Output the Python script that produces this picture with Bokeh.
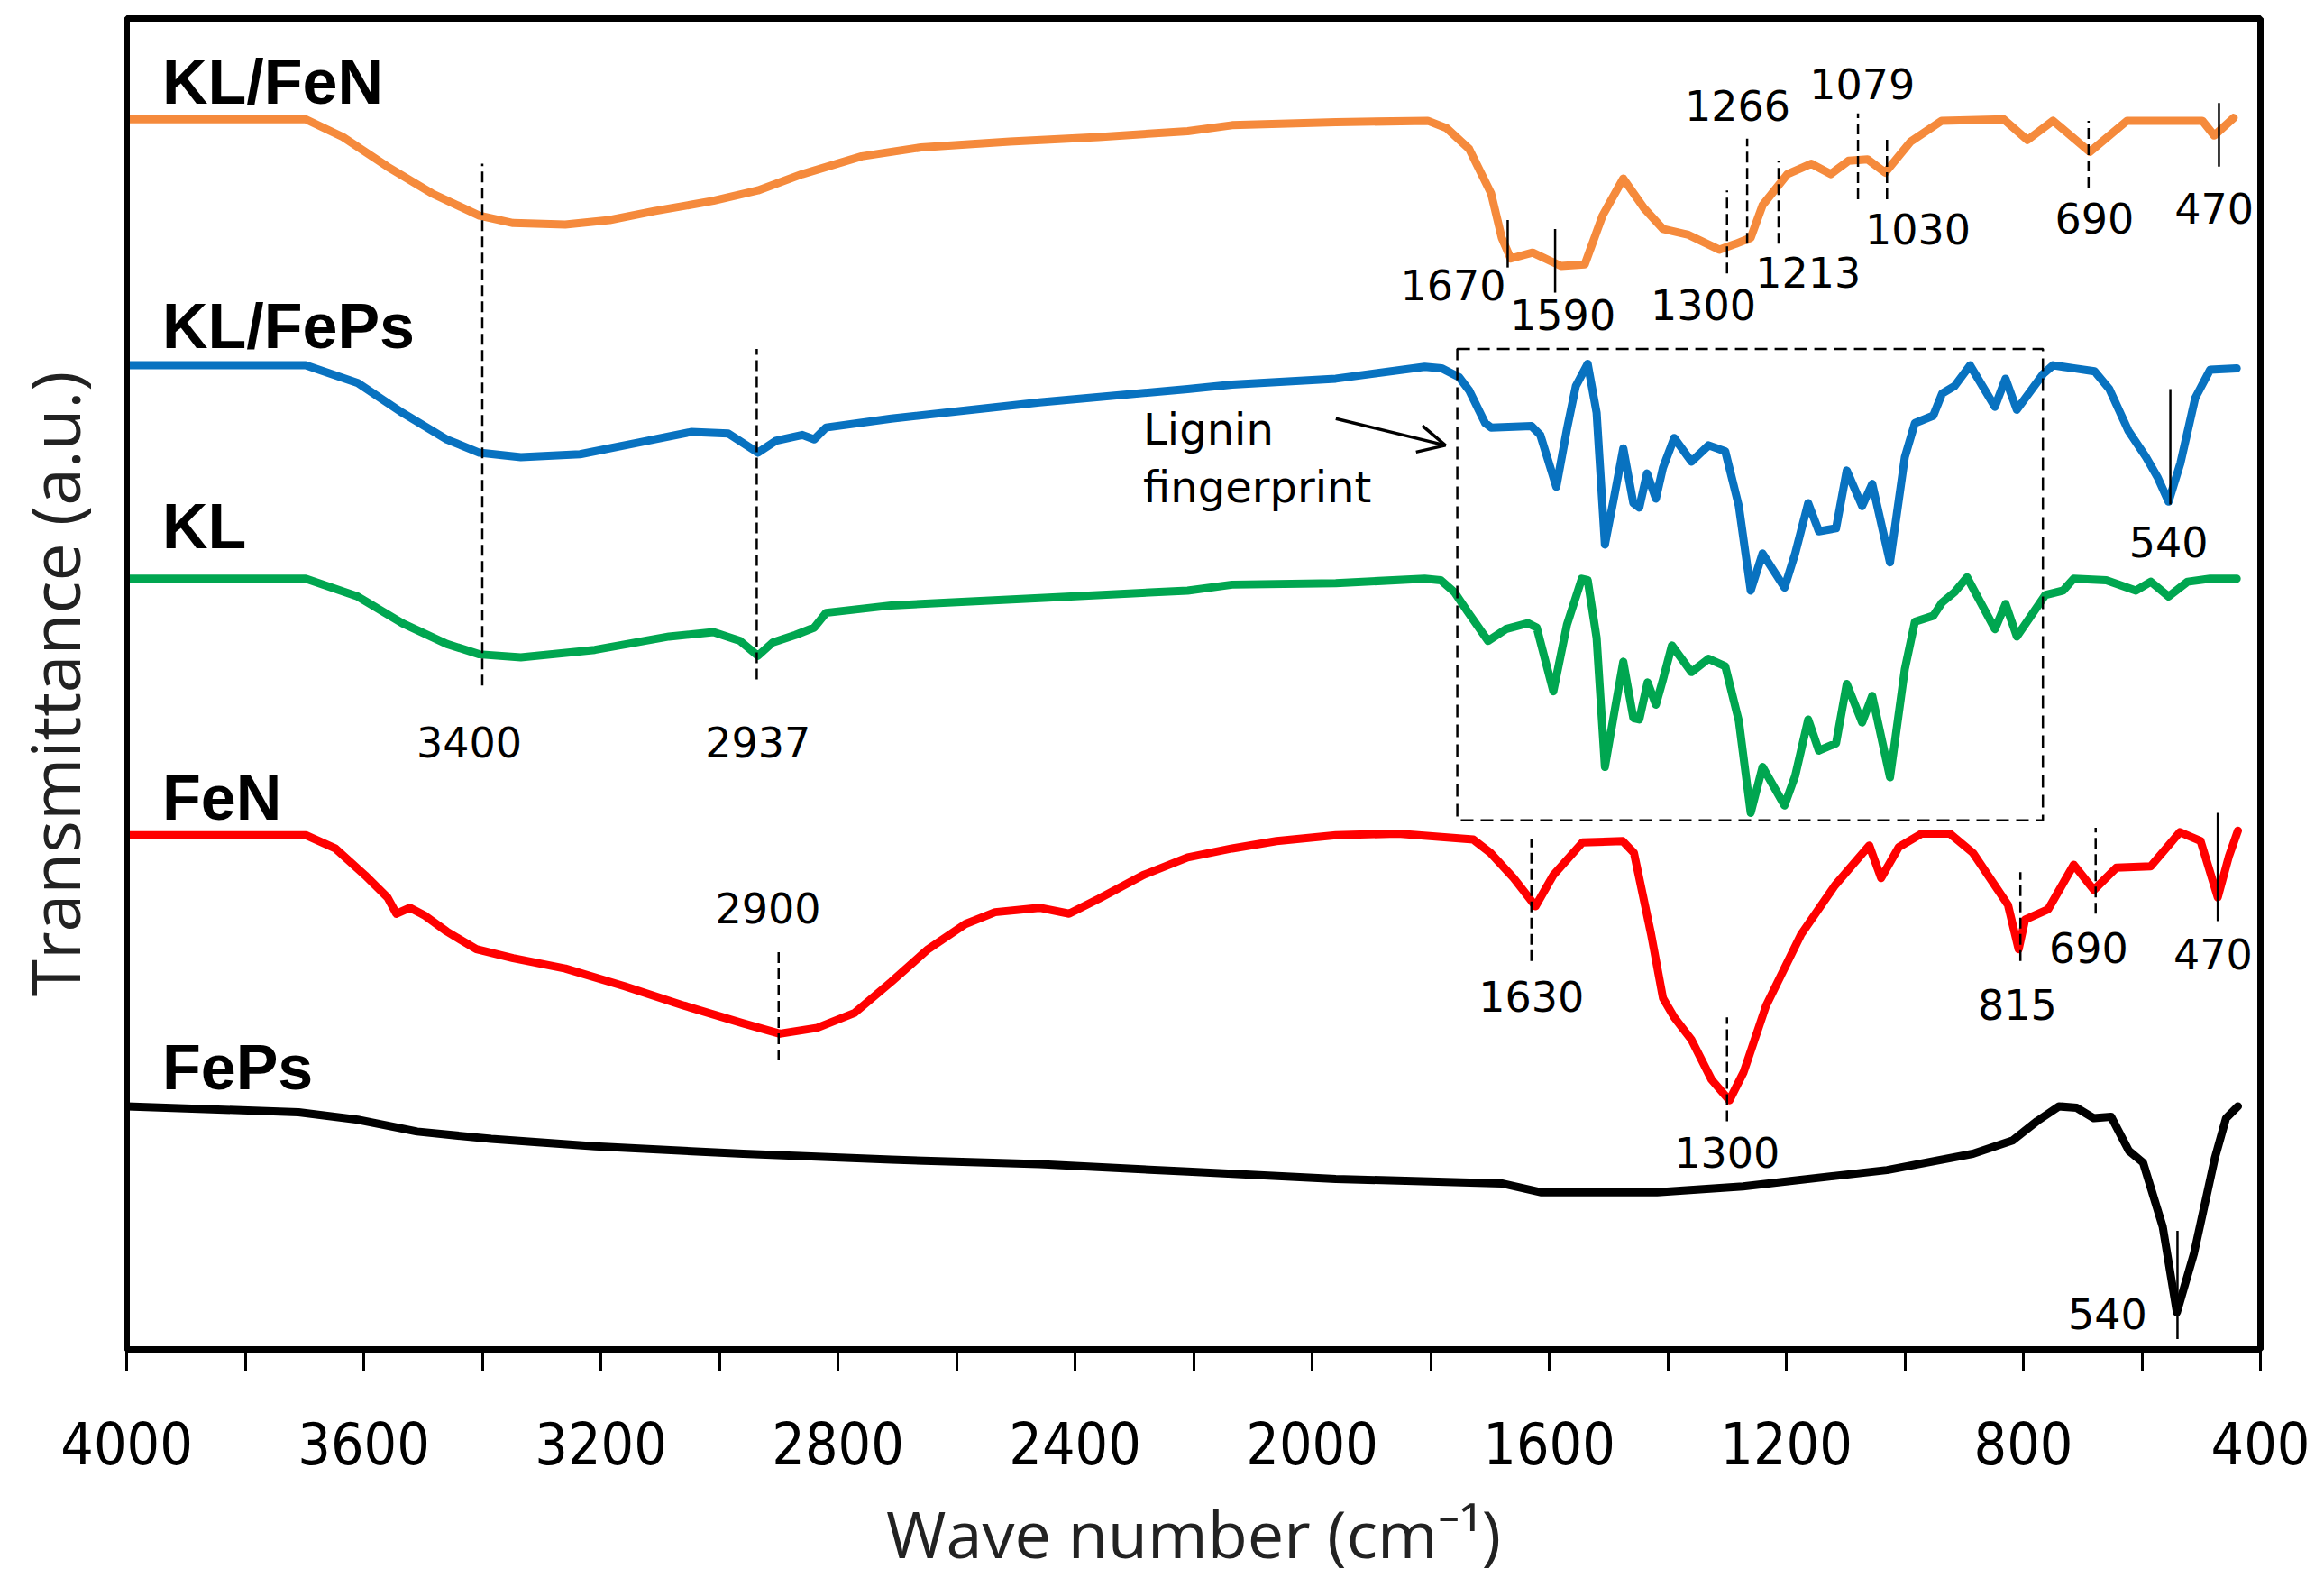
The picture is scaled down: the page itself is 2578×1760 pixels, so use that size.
from bokeh.plotting import figure
from bokeh.models import Range1d, FixedTicker, ColumnDataSource, Arrow, OpenHead
from bokeh.core.properties import value
from bokeh.embed import file_html
from bokeh.resources import INLINE

# ---------------- data (wavenumber cm-1, transmittance a.u. with offsets) ----------------
klfen_wn = [4000, 3698, 3635, 3560, 3485, 3405, 3348, 3260, 3185, 3110, 3010, 2935, 2860, 2760, 2660,
            2510, 2360, 2210, 2135, 1960, 1805, 1773, 1735, 1698, 1680, 1665, 1628, 1580, 1540, 1510,
            1475, 1440, 1408, 1365, 1313, 1285, 1260, 1240, 1198, 1158, 1125, 1095, 1063, 1033, 990,
            938, 833, 793, 750, 688, 625, 498, 478, 445]
klfen_t = [8.30, 8.30, 8.18, 7.98, 7.80, 7.65, 7.60, 7.59, 7.62, 7.68, 7.75, 7.82, 7.93, 8.05, 8.11,
           8.15, 8.18, 8.22, 8.26, 8.28, 8.29, 8.24, 8.10, 7.80, 7.50, 7.36, 7.40, 7.31, 7.32, 7.65,
           7.90, 7.70, 7.56, 7.52, 7.42, 7.46, 7.50, 7.72, 7.93, 8.00, 7.93, 8.02, 8.03, 7.94, 8.15,
           8.29, 8.30, 8.16, 8.29, 8.08, 8.29, 8.29, 8.19, 8.31]

klfeps_wn = [4000, 3698, 3610, 3535, 3460, 3405, 3335, 3235, 3135, 3048, 2985, 2935, 2905, 2860, 2840,
             2820, 2710, 2460, 2210, 2135, 1960, 1810, 1781, 1752, 1735, 1708, 1698, 1630, 1615, 1588,
             1570, 1555, 1535, 1520, 1506, 1490, 1475, 1458, 1448, 1435, 1420, 1408, 1389, 1360, 1331,
             1303, 1280, 1260, 1240, 1203, 1185, 1163, 1145, 1116, 1098, 1072, 1055, 1025, 1000, 983,
             952, 937, 916, 890, 848, 830, 811, 767, 750, 715, 680, 655, 623, 593, 573, 555, 535, 510,
             485, 440]
klfeps_t = [6.64, 6.64, 6.52, 6.32, 6.14, 6.05, 6.02, 6.04, 6.12, 6.19, 6.18, 6.05, 6.13, 6.17, 6.14,
            6.22, 6.28, 6.39, 6.48, 6.51, 6.55, 6.63, 6.62, 6.56, 6.47, 6.25, 6.22, 6.23, 6.17, 5.82,
            6.21, 6.50, 6.65, 6.32, 5.43, 5.76, 6.08, 5.71, 5.68, 5.91, 5.74, 5.95, 6.15, 5.99, 6.10,
            6.06, 5.69, 5.12, 5.37, 5.14, 5.37, 5.71, 5.52, 5.54, 5.93, 5.69, 5.84, 5.31, 6.02, 6.25,
            6.30, 6.45, 6.50, 6.64, 6.36, 6.55, 6.34, 6.58, 6.64, 6.62, 6.60, 6.48, 6.20, 6.02, 5.88,
            5.72, 5.98, 6.42, 6.61, 6.62]

kl_wn = [4000, 3698, 3610, 3535, 3460, 3405, 3335, 3210, 3085, 3010, 2965, 2935, 2910, 2872, 2840,
         2820, 2710, 2460, 2210, 2135, 1960, 1810, 1783, 1760, 1738, 1703, 1673, 1636, 1621, 1593,
         1570, 1545, 1535, 1520, 1506, 1490, 1475, 1458, 1448, 1434, 1420, 1408, 1393, 1360, 1331,
         1303, 1280, 1260, 1240, 1203, 1185, 1163, 1145, 1116, 1098, 1072, 1055, 1025, 1000, 983,
         952, 937, 916, 895, 848, 830, 811, 763, 733, 715, 660, 610, 585, 555, 523, 485, 440]
kl_t = [5.20, 5.20, 5.08, 4.90, 4.76, 4.69, 4.67, 4.72, 4.81, 4.84, 4.78, 4.68, 4.77, 4.82, 4.87,
        4.97, 5.02, 5.07, 5.12, 5.16, 5.17, 5.20, 5.19, 5.11, 4.98, 4.78, 4.86, 4.90, 4.87, 4.44,
        4.89, 5.20, 5.19, 4.80, 3.93, 4.30, 4.64, 4.26, 4.25, 4.50, 4.35, 4.52, 4.75, 4.57, 4.66,
        4.61, 4.24, 3.62, 3.93, 3.67, 3.87, 4.25, 4.04, 4.09, 4.49, 4.23, 4.41, 3.86, 4.59, 4.91,
        4.95, 5.04, 5.11, 5.21, 4.86, 5.03, 4.81, 5.09, 5.12, 5.20, 5.19, 5.12, 5.18, 5.08, 5.18,
        5.20, 5.20]

fen_wn = [4000, 3698, 3648, 3598, 3560, 3545, 3522, 3498, 3460, 3410, 3348, 3260, 3160, 3060, 2960,
          2898, 2835, 2772, 2710, 2648, 2585, 2535, 2460, 2410, 2360, 2285, 2210, 2135, 2060, 1960,
          1855, 1728, 1699, 1660, 1623, 1593, 1544, 1476, 1457, 1428, 1408, 1389, 1360, 1326, 1296,
          1272, 1234, 1175, 1118, 1060, 1040, 1010, 972, 924, 885, 826, 808, 797, 758, 715, 681, 643,
          585, 536, 501, 472, 453, 438]
fen_t = [3.47, 3.47, 3.38, 3.20, 3.05, 2.94, 2.98, 2.93, 2.82, 2.70, 2.64, 2.57, 2.45, 2.32, 2.20,
         2.13, 2.17, 2.27, 2.48, 2.70, 2.87, 2.95, 2.98, 2.94, 3.04, 3.20, 3.32, 3.38, 3.43, 3.47,
         3.48, 3.44, 3.35, 3.18, 2.99, 3.20, 3.42, 3.43, 3.35, 2.80, 2.37, 2.24, 2.09, 1.82, 1.68,
         1.87, 2.32, 2.80, 3.13, 3.40, 3.18, 3.39, 3.48, 3.48, 3.35, 3.00, 2.70, 2.90, 2.97, 3.27,
         3.10, 3.25, 3.26, 3.49, 3.43, 3.05, 3.33, 3.50]

feps_wn = [4000, 3710, 3610, 3510, 3385, 3210, 2960, 2710, 2460, 2210, 1960, 1680, 1613, 1418, 1273,
           1030, 885, 818, 777, 740, 710, 681, 652, 622, 598, 565, 541, 512, 477, 458, 438]
feps_t = [1.64, 1.60, 1.55, 1.47, 1.42, 1.37, 1.32, 1.28, 1.25, 1.20, 1.15, 1.12, 1.06, 1.06, 1.10,
          1.21, 1.32, 1.41, 1.54, 1.64, 1.63, 1.56, 1.57, 1.34, 1.26, 0.83, 0.25, 0.65, 1.29, 1.56,
          1.64]

series_names = ["KL/FeN", "KL/FePs", "KL", "FeN", "FePs"]
series_colors = ["#F58A3C", "#0872C0", "#00A650", "#FF0000", "#000000"]
name_t = [8.55, 6.90, 5.55, 3.72, 1.90]

# peak markers: position (cm-1), top and bottom of the marker line (a.u.)
mark_dash_wn = [3400, 2937, 1300, 1266, 1213, 1079, 1030, 690, 2900, 1630, 1300, 805, 678]
mark_dash_top = [8.00, 6.75, 7.82, 8.17, 8.02, 8.34, 8.19, 8.29, 2.70, 3.44, 2.24, 3.22, 3.52]
mark_dash_bot = [4.48, 4.52, 7.26, 7.46, 7.46, 7.76, 7.76, 7.84, 1.95, 2.62, 1.54, 2.62, 2.94]
mark_solid_wn = [1670, 1590, 470, 552, 472, 540]
mark_solid_top = [7.62, 7.56, 8.41, 6.48, 3.62, 0.80]
mark_solid_bot = [7.30, 7.13, 7.98, 5.70, 2.89, 0.07]

# peak labels
peak_text = ["3400", "2937", "1670", "1590", "1300", "1213", "1266", "1079", "1030", "690", "470",
             "540", "2900", "1630", "1300", "815", "690", "470", "540"]
peak_wn = [3422, 2935, 1762, 1577, 1340, 1163, 1282, 1072, 978, 680, 478,
           555, 2918, 1630, 1300, 810, 690, 480, 658]
peak_t = [4.10, 4.10, 7.18, 6.98, 7.05, 7.27, 8.39, 8.54, 7.56, 7.63, 7.70,
          5.45, 2.98, 2.38, 1.33, 2.33, 2.71, 2.67, 0.24]

x_major = [4000, 3600, 3200, 2800, 2400, 2000, 1600, 1200, 800, 400]
x_minor = [3800, 3400, 3000, 2600, 2200, 1800, 1400, 1000, 600]

# ---------------- figure ----------------
p = figure(width=2570, height=1756, output_backend="svg", toolbar_location=None,
           x_range=Range1d(4000, 400), y_range=Range1d(0, 8.98),
           min_border_left=140, min_border_right=63, min_border_top=20, min_border_bottom=260)
p.background_fill_color = "white"
p.border_fill_color = "white"
p.outline_line_color = "black"
p.outline_line_width = 7
p.xgrid.visible = False
p.ygrid.visible = False

xa = p.xaxis[0]
xa.ticker = FixedTicker(ticks=x_major, minor_ticks=x_minor)
xa.axis_line_width = 7
xa.major_tick_out = 24
xa.major_tick_in = 0
xa.minor_tick_out = 24
xa.minor_tick_in = 0
xa.major_tick_line_width = 3
xa.minor_tick_line_width = 3
xa.major_label_text_font = "DejaVu Sans Condensed"
xa.major_label_text_font_size = "64px"
xa.major_label_text_color = "black"
xa.major_label_standoff = 56
xa.axis_label = "Wave number (cm\u207b\u00b9)"
xa.axis_label_text_font = "Open Sans"
xa.axis_label_text_font_style = "normal"
xa.axis_label_text_font_size = "72px"
xa.axis_label_text_color = "#222222"
xa.axis_label_standoff = 24

ya = p.yaxis[0]
ya.ticker = FixedTicker(ticks=[])
ya.axis_line_width = 7
ya.major_tick_out = 0
ya.minor_tick_out = 0
ya.major_label_text_font_size = "0px"
ya.axis_label = "Transmittance (a.u.)"
ya.axis_label_text_font = "Open Sans"
ya.axis_label_text_font_style = "normal"
ya.axis_label_text_font_size = "75px"
ya.axis_label_text_color = "#222222"
ya.axis_label_standoff = 30

# spectra
all_wn = [klfen_wn, klfeps_wn, kl_wn, fen_wn, feps_wn]
all_t = [klfen_t, klfeps_t, kl_t, fen_t, feps_t]
for wn, t, c in zip(all_wn, all_t, series_colors):
    p.line(wn, t, line_color=c, line_width=9, line_join="round", line_cap="round")

# marker lines
p.segment(x0=mark_dash_wn, y0=mark_dash_bot, x1=mark_dash_wn, y1=mark_dash_top,
          line_color="black", line_width=2.5, line_dash="12 6")
p.segment(x0=mark_solid_wn, y0=mark_solid_bot, x1=mark_solid_wn, y1=mark_solid_top,
          line_color="black", line_width=2.5)

# lignin fingerprint box
p.quad(left=[1755], right=[767], top=[6.75], bottom=[3.57], fill_color=None,
       line_color="black", line_width=2.5, line_dash="14 8")

# peak labels
ps = ColumnDataSource(dict(x=peak_wn, y=peak_t, text=peak_text))
p.text(x="x", y="y", text="text", source=ps, text_font=value("DejaVu Sans"),
       text_font_size="46px", text_align="center", text_baseline="middle", text_color="black")

# series names
ns = ColumnDataSource(dict(x=[3940] * len(series_names), y=name_t, text=series_names))
p.text(x="x", y="y", text="text", source=ns, text_font=value("Liberation Sans"),
       text_font_style="bold", text_font_size="70px", text_align="left",
       text_baseline="middle", text_color="black")

# lignin fingerprint note
ls = ColumnDataSource(dict(x=[2285, 2285], y=[6.21, 5.82], text=["Lignin", "fingerprint"]))
p.text(x="x", y="y", text="text", source=ls, text_font=value("DejaVu Sans"),
       text_font_size="48px", text_align="left", text_baseline="middle", text_color="black")
p.add_layout(Arrow(end=OpenHead(size=30, line_width=3.5, line_color="black"),
                   x_start=1960, y_start=6.28, x_end=1775, y_end=6.10,
                   line_width=3.5, line_color="black"))

open("out.html", "w").write(file_html(p, INLINE))
